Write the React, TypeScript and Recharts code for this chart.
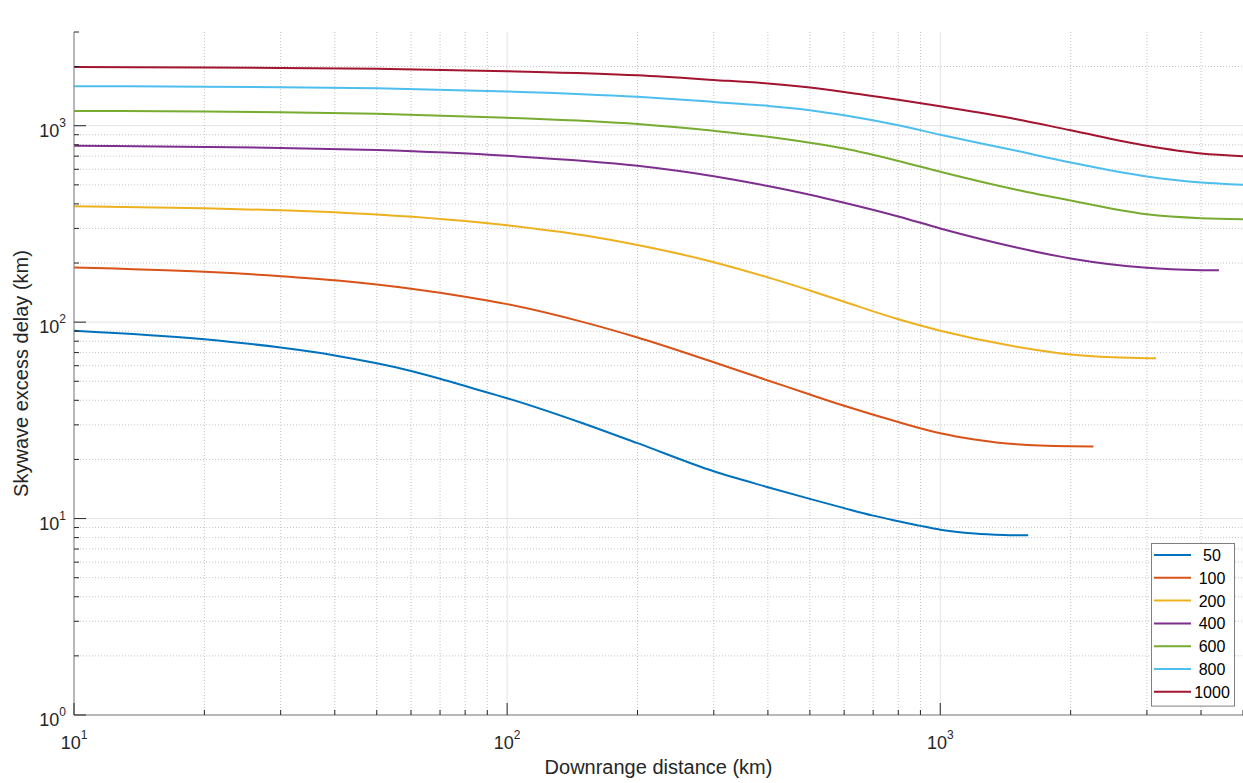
import { LineChart, Line, XAxis, YAxis, CartesianGrid, Legend } from 'recharts'

const FONT = '"Liberation Sans", Arial, Helvetica, sans-serif'
const INK = '#262626'
const BOX = '#808080'

// ionosphere heights (km) and MATLAB default colour order
const heights = ['50', '100', '200', '400', '600', '800', '1000']
const colors = ['#0072BD', '#D95319', '#EDB120', '#7E2F8E', '#77AC30', '#4DBEEE', '#A2142F']

// downrange distance (km) / excess delay (km)
const dist50 = [10, 20, 30, 40, 50, 60, 70, 80, 90, 100, 150, 200, 300, 400, 500, 600, 700, 800, 900, 1000, 1200, 1400, 1596]
const delay50 = [90.5, 81.8, 74.2, 67.7, 61.7, 56.4, 51.5, 47.3, 43.8, 41, 30.5, 24.2, 17.4, 14.45, 12.6, 11.3, 10.35, 9.7, 9.18, 8.78, 8.4, 8.26, 8.22]

const dist100 = [10, 20, 30, 40, 50, 60, 70, 80, 90, 100, 150, 200, 300, 400, 500, 600, 800, 1000, 1200, 1500, 2000, 2257]
const delay100 = [190, 180.5, 171.5, 163.5, 155.5, 148, 141, 134.5, 129, 123.5, 100, 83.5, 62.5, 50.5, 42.8, 37.5, 31, 27.2, 25.3, 23.9, 23.35, 23.3]

const dist200 = [10, 20, 30, 50, 100, 150, 200, 300, 400, 500, 600, 800, 1000, 1500, 2000, 2500, 3000, 3150]
const delay200 = [389, 380, 371, 353, 311, 277, 247, 202, 169, 145, 127, 103.5, 90.5, 75, 68.5, 66.3, 65.5, 65.4]

const dist400 = [10, 20, 30, 50, 100, 200, 300, 400, 500, 600, 800, 1000, 1500, 2000, 3000, 4000, 4400]
const delay400 = [790, 780, 771, 752, 703, 625, 553, 493, 445, 405, 345, 300, 240, 211, 189, 184, 183.5]

const dist600 = [10, 20, 30, 50, 100, 200, 300, 400, 500, 600, 800, 1000, 1500, 2000, 3000, 4000, 5000]
const delay600 = [1190, 1180, 1170, 1150, 1097, 1019, 942, 879, 820, 765, 662, 583, 472, 416, 354, 338, 334]

const dist800 = [10, 20, 30, 50, 100, 200, 300, 400, 500, 600, 800, 1000, 1500, 2000, 3000, 4000, 5000]
const delay800 = [1590, 1580, 1570, 1551, 1495, 1403, 1322, 1262, 1200, 1130, 1005, 900, 745, 650, 552, 514, 501]

const dist1000 = [10, 20, 30, 50, 100, 200, 300, 400, 500, 600, 800, 1000, 1500, 2000, 3000, 4000, 5000]
const delay1000 = [1990, 1980, 1970, 1950, 1895, 1806, 1711, 1640, 1564, 1486, 1355, 1255, 1079, 948, 791, 722, 700]

const distances = [dist50, dist100, dist200, dist400, dist600, dist800, dist1000]
const delays = [delay50, delay100, delay200, delay400, delay600, delay800, delay1000]

// axis ticks
const xMajor = [10, 100, 1000]
const xTicks = [10, 20, 30, 40, 50, 60, 70, 80, 90, 100, 200, 300, 400, 500, 600, 700, 800, 900, 1000, 2000, 3000, 4000, 5000]
const xMinor = [20, 30, 40, 50, 60, 70, 80, 90, 200, 300, 400, 500, 600, 700, 800, 900, 2000, 3000, 4000]
const yMajor = [1, 10, 100, 1000]
const yTicks = [1, 2, 3, 4, 5, 6, 7, 8, 9, 10, 20, 30, 40, 50, 60, 70, 80, 90, 100, 200, 300, 400, 500, 600, 700, 800, 900, 1000, 2000, 3000]
const yMinor = [2, 3, 4, 5, 6, 7, 8, 9, 20, 30, 40, 50, 60, 70, 80, 90, 200, 300, 400, 500, 600, 700, 800, 900, 2000]

const series = heights.map((h, i) => ({
  name: h,
  color: colors[i],
  data: distances[i].map((d, j) => ({ d, v: delays[i][j] }))
}))

const MAJOR_LEN = 12
const MINOR_LEN = 5

function Pow10({ x, y, v, anchor }: { x: number; y: number; v: number; anchor: 'middle' | 'end' }) {
  return (
    <text x={x} y={y} textAnchor={anchor} fontFamily={FONT} fontSize={18} fill={INK}>
      10<tspan dy={-10} fontSize={12}>{Math.round(Math.log10(v))}</tspan>
    </text>
  )
}

function BottomTick(props: any) {
  const { x, y, payload } = props
  const major = xMajor.includes(payload.value)
  return (
    <g>
      <line x1={x} x2={x} y1={y} y2={y - (major ? MAJOR_LEN : MINOR_LEN)} stroke={INK} />
      {major && <Pow10 x={x} y={y + 34} v={payload.value} anchor="middle" />}
    </g>
  )
}

function TopTick(props: any) {
  const { x, y, payload } = props
  const major = xMajor.includes(payload.value)
  return <line x1={x} x2={x} y1={y} y2={y + (major ? MAJOR_LEN : MINOR_LEN)} stroke={INK} />
}

function LeftTick(props: any) {
  const { x, y, payload } = props
  const major = yMajor.includes(payload.value)
  return (
    <g>
      <line x1={x} x2={x + (major ? MAJOR_LEN : MINOR_LEN)} y1={y} y2={y} stroke={INK} />
      {major && <Pow10 x={x - 8} y={y + 11} v={payload.value} anchor="end" />}
    </g>
  )
}

function RightTick(props: any) {
  const { x, y, payload } = props
  const major = yMajor.includes(payload.value)
  return <line x1={x} x2={x - (major ? MAJOR_LEN : MINOR_LEN)} y1={y} y2={y} stroke={INK} />
}

function LegendBox() {
  const w = 84
  const rowH = 22.8
  const h = rowH * series.length + 4
  return (
    <svg width={w} height={h} style={{ display: 'block' }}>
      <rect x={0.5} y={0.5} width={w - 1} height={h - 1} fill="#ffffff" stroke={BOX} />
      {series.map((s, i) => {
        const cy = 12 + i * rowH
        return (
          <g key={s.name}>
            <line x1={3} x2={40} y1={cy} y2={cy} stroke={s.color} strokeWidth={2} />
            <text x={61} y={cy + 6} textAnchor="middle" fontFamily={FONT} fontSize={16} fill="#000">
              {s.name}
            </text>
          </g>
        )
      })}
    </svg>
  )
}

export default function App() {
  return (
    <div style={{ position: 'absolute', left: 0, top: 0, width: 1243, height: 783, background: '#fff' }}>
      <LineChart width={1243} height={783} margin={{ top: 32, right: 0, bottom: 6, left: 14 }}>
        <CartesianGrid verticalValues={xMajor} horizontalValues={yMajor} stroke="#e3e3e3" />
        <CartesianGrid verticalValues={xMinor} horizontalValues={yMinor} stroke="#c4c4c4" strokeDasharray="1 2" />
        <XAxis
          dataKey="d"
          type="number"
          scale="log"
          domain={[10, 5000]}
          allowDataOverflow
          ticks={xTicks}
          interval={0}
          tick={<BottomTick />}
          tickLine={false}
          tickSize={0}
          tickMargin={0}
          height={62}
          axisLine={{ stroke: BOX }}
          label={{
            content: (p: any) => {
              const vb = p.viewBox
              return (
                <text x={vb.x + vb.width / 2} y={vb.y + 59} textAnchor="middle" fontFamily={FONT} fontSize={20} fill={INK}>
                  Downrange distance (km)
                </text>
              )
            }
          }}
        />
        <XAxis
          xAxisId="top"
          orientation="top"
          type="number"
          scale="log"
          domain={[10, 5000]}
          allowDataOverflow
          ticks={xTicks}
          interval={0}
          tick={<TopTick />}
          tickLine={false}
          tickSize={0}
          tickMargin={0}
          height={0}
          axisLine={{ stroke: BOX }}
          label={{
            content: (p: any) => {
              const vb = p.viewBox
              return (
                <text x={vb.x + vb.width / 2} y={vb.y - 9} textAnchor="middle" fontFamily={FONT} fontSize={20} fontWeight="bold" fill="#000">
                  Skywave excess delay vs. downrange distance for different ionosphere heights (km)
                </text>
              )
            }
          }}
        />
        <YAxis
          type="number"
          scale="log"
          domain={[1, 3000]}
          allowDataOverflow
          ticks={yTicks}
          interval={0}
          tick={<LeftTick />}
          tickLine={false}
          tickSize={0}
          tickMargin={0}
          width={60}
          axisLine={{ stroke: BOX }}
          label={{
            content: (p: any) => {
              const vb = p.viewBox
              const bx = vb.x + 14
              const cy = vb.y + vb.height / 2
              return (
                <text x={bx} y={cy} transform={`rotate(-90, ${bx}, ${cy})`} textAnchor="middle" fontFamily={FONT} fontSize={20} fill={INK}>
                  Skywave excess delay (km)
                </text>
              )
            }
          }}
        />
        <YAxis
          yAxisId="right"
          orientation="right"
          type="number"
          scale="log"
          domain={[1, 3000]}
          allowDataOverflow
          ticks={yTicks}
          interval={0}
          tick={<RightTick />}
          tickLine={false}
          tickSize={0}
          tickMargin={0}
          width={0}
          axisLine={{ stroke: BOX }}
        />
        {series.map(s => (
          <Line
            key={s.name}
            data={s.data}
            dataKey="v"
            name={s.name}
            type="monotone"
            stroke={s.color}
            strokeWidth={2}
            dot={false}
            activeDot={false}
            isAnimationActive={false}
          />
        ))}
        <Legend
          layout="vertical"
          align="center"
          verticalAlign="middle"
          wrapperStyle={{ left: 1151, top: 543, width: 84 }}
          content={() => <LegendBox />}
        />
      </LineChart>
    </div>
  )
}
